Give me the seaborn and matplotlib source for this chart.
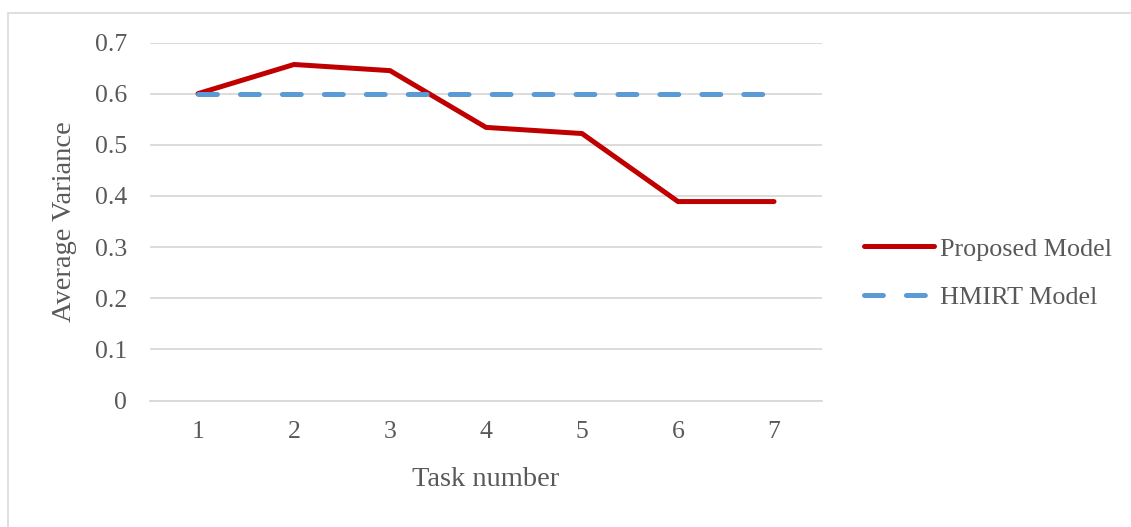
import matplotlib
matplotlib.use("Agg")
import matplotlib.pyplot as plt
import seaborn as sns
import pandas as pd
from matplotlib.patches import Rectangle

# Average variance per task for the two models
tasks = [1, 2, 3, 4, 5, 6, 7]
proposed_model = [0.600, 0.657, 0.645, 0.534, 0.522, 0.389, 0.389]
hmirt_model = [0.600, 0.600, 0.600, 0.600, 0.600, 0.600, 0.600]
y_ticks = [0, 0.1, 0.2, 0.3, 0.4, 0.5, 0.6, 0.7]
y_tick_labels = ["0", "0.1", "0.2", "0.3", "0.4", "0.5", "0.6", "0.7"]

sns.set_theme(style="white")
plt.rcParams["font.family"] = ["Liberation Serif", "DejaVu Serif"]
plt.rcParams["lines.scale_dashes"] = False

TEXT = "#595959"
GRID = "#D9D9D9"

W, H = 1131, 527
fig = plt.figure(figsize=(W / 100, H / 100), dpi=100)
# chart frame
fig.add_artist(Rectangle((8 / W, -0.1), 1.2, 1 - 13 / H + 0.1, transform=fig.transFigure,
                         fill=False, edgecolor=GRID, linewidth=1.2))

left, right, top, bottom = 150, 822, 42.5, 400.5
ax = fig.add_axes([left / W, 1 - bottom / H, (right - left) / W, (bottom - top) / H])

df = pd.DataFrame({"task": tasks, "proposed": proposed_model, "hmirt": hmirt_model})

sns.lineplot(data=df, x="task", y="proposed", ax=ax, color="#C00000", linewidth=3.6,
             label="Proposed Model", solid_capstyle="round", solid_joinstyle="miter")
sns.lineplot(data=df, x="task", y="hmirt", ax=ax, color="#5B9BD5", linewidth=3.6,
             label="HMIRT Model", linestyle=(0, (13.6, 16.6)), dash_capstyle="round")

ax.set_xlim(0.5, 7.5)
ax.set_ylim(0, 0.7)
ax.set_yticks(y_ticks)
ax.set_yticklabels(y_tick_labels)
ax.set_xticks(tasks)
ax.set_xticklabels([str(t) for t in tasks])
ax.grid(axis="y", color=GRID, linewidth=1.3)
ax.set_axisbelow(True)
for s in ["top", "right", "left"]:
    ax.spines[s].set_visible(False)
ax.spines["bottom"].set_color(GRID)
ax.spines["bottom"].set_linewidth(1.3)
ax.tick_params(axis="both", length=0, labelsize=18.5, colors=TEXT)
ax.tick_params(axis="y", pad=16.5)
ax.tick_params(axis="x", pad=15)

ax.set_xlabel("Task number", fontsize=20.5, color=TEXT, labelpad=17)
ax.set_ylabel("Average Variance", fontsize=20.5, color=TEXT, labelpad=13)

ax.get_legend().remove()
handles, labels = ax.get_legend_handles_labels()
fig.legend(handles, labels, loc="center left", bbox_to_anchor=(840 / W, 1 - 273 / H),
           frameon=False, fontsize=18.8, labelcolor=TEXT, handlelength=2.7,
           handletextpad=0.23, labelspacing=0.95)

fig.savefig("out.png", dpi=100, facecolor="white")
